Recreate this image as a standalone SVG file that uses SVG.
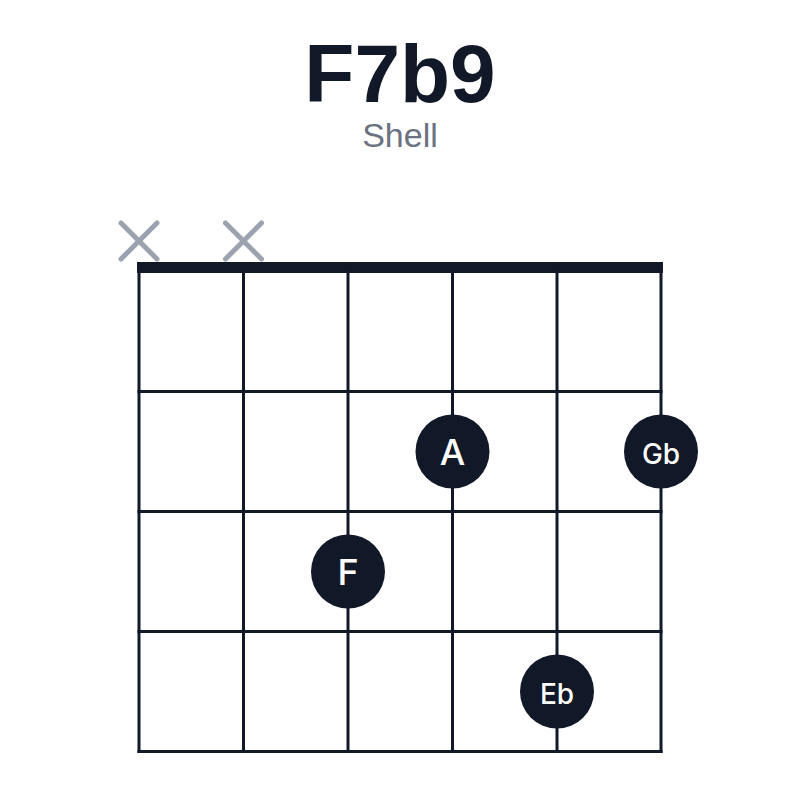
<svg xmlns="http://www.w3.org/2000/svg" width="800" height="800" viewBox="0 0 800 800">
<style>
.title{font-family:"Liberation Sans",Arial,sans-serif;font-weight:bold;font-size:82px;fill:#111827;text-anchor:middle}
.sub{font-family:"Liberation Sans",Arial,sans-serif;font-size:34px;fill:#6b7280;text-anchor:middle}
.line{stroke:#111827;stroke-width:3;fill:none}
.mute{stroke:#9ca3af;stroke-width:5;stroke-linecap:round}
.dot{fill:#111827}
.lbl{font-family:Inter,"Liberation Sans",Arial,sans-serif;font-weight:500;fill:#ffffff;text-anchor:middle;dominant-baseline:central}
</style>
<rect width="800" height="800" fill="#ffffff"/>
<text class="title" x="400" y="102">F7b9</text>
<text class="sub" x="400" y="147">Shell</text>
<g id="grid">
<rect x="137" y="262" width="526" height="11" fill="#111827"/>
<line class="line" x1="139" y1="268" x2="139" y2="753"/>
<line class="line" x1="243.5" y1="268" x2="243.5" y2="753"/>
<line class="line" x1="348" y1="268" x2="348" y2="753"/>
<line class="line" x1="452.5" y1="268" x2="452.5" y2="753"/>
<line class="line" x1="557" y1="268" x2="557" y2="753"/>
<line class="line" x1="661" y1="268" x2="661" y2="753"/>
<line class="line" x1="137.5" y1="391.5" x2="662.5" y2="391.5"/>
<line class="line" x1="137.5" y1="511.5" x2="662.5" y2="511.5"/>
<line class="line" x1="137.5" y1="631.5" x2="662.5" y2="631.5"/>
<line class="line" x1="137.5" y1="751.5" x2="662.5" y2="751.5"/>
</g>
<g id="mute1"><line class="mute" x1="121" y1="223" x2="157" y2="259"/><line class="mute" x1="157" y1="223" x2="121" y2="259"/></g>
<g id="mute2"><line class="mute" x1="225.5" y1="223" x2="261.5" y2="259"/><line class="mute" x1="261.5" y1="223" x2="225.5" y2="259"/></g>
<g id="note-A"><circle class="dot" cx="452.5" cy="451.5" r="37"/><text class="lbl" x="452.5" y="452" font-size="36">A</text></g>
<g id="note-Gb"><circle class="dot" cx="661" cy="451.5" r="37"/><text class="lbl" x="661" y="454" font-size="28">Gb</text></g>
<g id="note-F"><circle class="dot" cx="348" cy="571.5" r="37"/><text class="lbl" x="348" y="572" font-size="36">F</text></g>
<g id="note-Eb"><circle class="dot" cx="557" cy="691.5" r="37"/><text class="lbl" x="557" y="694" font-size="28">Eb</text></g>
</svg>
